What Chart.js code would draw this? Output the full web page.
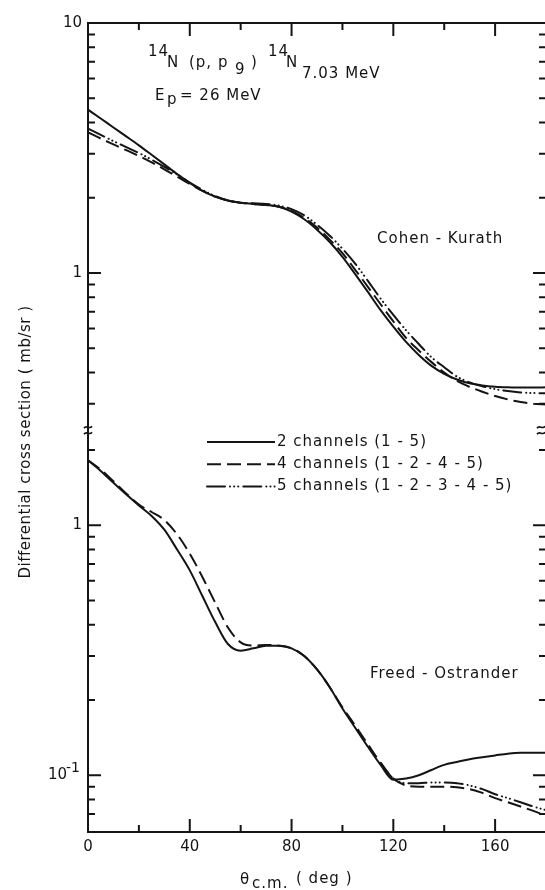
<!DOCTYPE html>
<html>
<head>
<meta charset="utf-8">
<title>14N(p,p9) cross sections</title>
<script src="https://cdn.jsdelivr.net/npm/chart.js@4.4.1/dist/chart.umd.min.js"></script>
<style>
    html, body { margin: 0; padding: 0; background: #fff; overflow: hidden; }
    #wrap { width: 548px; height: 890px; }
</style>
</head>
<body>
<div id="wrap"><canvas id="xsec" width="548" height="890"></canvas></div>
<script>
// c.m. angle, degrees
var angles = [0, 5, 10, 15, 20, 25, 30, 35, 40, 45, 50, 55, 60, 65, 70, 75, 80, 85, 90,
    95, 100, 105, 110, 115, 120, 125, 130, 135, 140, 145, 150, 155, 160, 165, 170, 175, 180];

// Cohen - Kurath, mb/sr
var cohenTwo = [4.50, 4.15, 3.82, 3.52, 3.24, 2.97, 2.72, 2.49, 2.29, 2.13, 2.02, 1.95, 1.91, 1.89, 1.87, 1.84, 1.76, 1.64, 1.49,
    1.33, 1.16, 0.99, 0.84, 0.71, 0.61, 0.53, 0.47, 0.425, 0.395, 0.375, 0.362, 0.355, 0.351, 0.349, 0.348, 0.348, 0.349];
var cohenFour = [3.65, 3.45, 3.27, 3.10, 2.94, 2.77, 2.60, 2.43, 2.27, 2.13, 2.02, 1.95, 1.91, 1.89, 1.87, 1.84, 1.77, 1.66, 1.52,
    1.36, 1.20, 1.03, 0.88, 0.75, 0.64, 0.55, 0.49, 0.44, 0.40, 0.37, 0.35, 0.335, 0.322, 0.312, 0.305, 0.300, 0.298];
var cohenFive = [3.78, 3.57, 3.37, 3.19, 3.02, 2.84, 2.66, 2.48, 2.30, 2.15, 2.03, 1.95, 1.91, 1.90, 1.89, 1.86, 1.80, 1.70, 1.56,
    1.41, 1.25, 1.09, 0.93, 0.79, 0.68, 0.59, 0.52, 0.46, 0.42, 0.385, 0.365, 0.352, 0.343, 0.337, 0.333, 0.331, 0.330];

// Freed - Ostrander, mb/sr
var freedTwo = [1.82, 1.65, 1.48, 1.33, 1.20, 1.09, 0.96, 0.80, 0.66, 0.52, 0.41, 0.335, 0.315, 0.322, 0.33, 0.33, 0.322, 0.30, 0.265,
    0.225, 0.185, 0.155, 0.13, 0.11, 0.096, 0.097, 0.100, 0.105, 0.110, 0.113, 0.116, 0.118, 0.120, 0.122, 0.123, 0.123, 0.123];
var freedFour = [1.82, 1.67, 1.50, 1.34, 1.21, 1.13, 1.05, 0.92, 0.77, 0.62, 0.49, 0.39, 0.34, 0.33, 0.332, 0.33, 0.322, 0.30, 0.265,
    0.225, 0.187, 0.158, 0.133, 0.112, 0.097, 0.091, 0.090, 0.090, 0.090, 0.0895, 0.088, 0.085, 0.081, 0.078, 0.075, 0.072, 0.069];
var freedFive = [null, null, null, null, null, null, null, null, null, null, null, null, null, null, null, null, null, null, null,
    null, null, null, null, 0.112, 0.097, 0.093, 0.093, 0.0935, 0.0935, 0.093, 0.091, 0.088, 0.084, 0.081, 0.078, 0.075, 0.0725];

var seriesLabels = ['2 channels (1 - 5)', '4 channels (1 - 2 - 4 - 5)', '5 channels (1 - 2 - 3 - 4 - 5)'];
var xTickLabels = [0, 40, 80, 120, 160];
var topTickLabels = [10, 1];
var bottomTickLabels = [1, 0.1];

var ink = '#141414';
var textFont = '15px "DejaVu Sans"';

// solid, dashed, dash-dot-dot-dot
var lineStyles = [
    { borderDash: [], borderCapStyle: 'butt' },
    { borderDash: [14, 6], borderCapStyle: 'butt' },
    { borderDash: [18, 5, 0.1, 4, 0.1, 4, 0.1, 5], borderCapStyle: 'round' }
];

function curve(i, values, axis) {
    return {
        label: seriesLabels[i],
        yAxisID: axis,
        data: angles.map(function (a, k) { return { x: a, y: values[k] }; }),
        borderColor: ink,
        borderWidth: 2,
        borderDash: lineStyles[i].borderDash,
        borderCapStyle: lineStyles[i].borderCapStyle,
        pointRadius: 0,
        cubicInterpolationMode: 'monotone',
        spanGaps: false
    };
}

function text(ctx, s, x, y) {
    ctx.fillText(s, x, y);
}

// two little wavy strokes marking the axis break
function breakMark(ctx, x, y) {
    ctx.save();
    ctx.setLineDash([]);
    ctx.lineWidth = 1.6;
    ctx.beginPath();
    [-3, 3].forEach(function (dy) {
        ctx.moveTo(x - 4, y + dy + 1);
        ctx.bezierCurveTo(x - 1.5, y + dy - 3, x + 1.5, y + dy + 3, x + 4, y + dy - 1);
    });
    ctx.stroke();
    ctx.restore();
}

var decorations = {
    id: 'decorations',
    afterDraw: function (chart) {
        var ctx = chart.ctx;
        var area = chart.chartArea;
        var xs = chart.scales.x;
        ctx.save();
        ctx.strokeStyle = ink;
        ctx.fillStyle = ink;
        ctx.lineWidth = 2;

        // frame
        ctx.strokeRect(area.left, area.top, area.right - area.left, area.bottom - area.top);

        // inward ticks
        ctx.beginPath();
        for (var a = 20; a < 180; a += 20) {
            var px = xs.getPixelForValue(a);
            var len = a % 40 === 0 ? 13 : 7;
            ctx.moveTo(px, area.top);
            ctx.lineTo(px, area.top + len);
            ctx.moveTo(px, area.bottom);
            ctx.lineTo(px, area.bottom - len);
        }
        ['yTop', 'yBot'].forEach(function (id) {
            var s = chart.scales[id];
            var e0 = Math.floor(Math.log10(s.min));
            var e1 = Math.floor(Math.log10(s.max));
            for (var e = e0; e <= e1; e++) {
                for (var m = 1; m < 10; m++) {
                    var py = s.getPixelForValue(m * Math.pow(10, e));
                    if (py <= s.top + 6 || py >= s.bottom - 6) continue;
                    var tl = m === 1 ? 13 : 7;
                    ctx.moveTo(area.left, py);
                    ctx.lineTo(area.left + tl, py);
                    ctx.moveTo(area.right, py);
                    ctx.lineTo(area.right - tl, py);
                }
            }
        });
        ctx.stroke();

        var cut = chart.scales.yTop.bottom;
        breakMark(ctx, area.left, cut);
        breakMark(ctx, area.right - 5, cut);

        // exponent of the 10^-1 label
        ctx.font = '14px "DejaVu Sans"';
        ctx.textAlign = 'right';
        text(ctx, '-1', area.left - 8, chart.scales.yBot.getPixelForValue(0.1) - 3);

        ctx.font = textFont;
        ctx.letterSpacing = '1px';
        ctx.textBaseline = 'alphabetic';
        ctx.textAlign = 'left';

        // reaction
        text(ctx, '14', 148, 56);
        text(ctx, 'N', 167, 67);
        text(ctx, '(p, p', 189, 67);
        text(ctx, '9', 235, 74);
        text(ctx, ')', 251, 67);
        text(ctx, '14', 268, 56);
        text(ctx, 'N', 286, 67);
        text(ctx, '7.03 MeV', 302, 78);
        text(ctx, 'E', 155, 100);
        text(ctx, 'p', 167, 104);
        text(ctx, '= 26 MeV', 180, 100);

        // panel names
        text(ctx, 'Cohen - Kurath', 377, 243);
        text(ctx, 'Freed - Ostrander', 370, 678);

        // key
        ctx.textBaseline = 'middle';
        for (var i = 0; i < 3; i++) {
            var ds = chart.data.datasets[i];
            var ky = 442 + i * 22.3;
            ctx.save();
            ctx.setLineDash(ds.borderDash);
            ctx.lineCap = ds.borderCapStyle;
            ctx.beginPath();
            ctx.moveTo(207, ky);
            ctx.lineTo(275, ky);
            ctx.stroke();
            ctx.restore();
            text(ctx, ds.label, 277, ky);
        }

        // axis titles
        ctx.textBaseline = 'alphabetic';
        text(ctx, '\u03B8', 240, 884);
        text(ctx, 'c.m.', 252, 888);
        text(ctx, '( deg )', 296, 883);

        ctx.translate(30, 442);
        ctx.rotate(-Math.PI / 2);
        ctx.textAlign = 'center';
        ctx.letterSpacing = '0.5px';
        text(ctx, 'Differential cross section ( mb/sr )', 0, 0);
        ctx.restore();
    }
};

Chart.defaults.font.family = '"DejaVu Sans"';
Chart.defaults.font.size = 15;
Chart.defaults.color = ink;

var topMin = 0.235, topMax = 10;
var botMin = 0.0593, botMax = 2.4;

var ctx = document.getElementById('xsec');
var myChart = new Chart(ctx, {
    type: 'line',
    data: {
        datasets: [
            curve(0, cohenTwo, 'yTop'),
            curve(1, cohenFour, 'yTop'),
            curve(2, cohenFive, 'yTop'),
            curve(0, freedTwo, 'yBot'),
            curve(1, freedFour, 'yBot'),
            curve(2, freedFive, 'yBot')
        ]
    },
    options: {
        responsive: false,
        animation: false,
        layout: { padding: { top: 23, right: 2, left: 0, bottom: 0 } },
        plugins: {
            legend: { display: false },
            tooltip: { enabled: false }
        },
        scales: {
            x: {
                type: 'linear',
                min: 0,
                max: 180,
                grid: { display: false, drawTicks: false },
                border: { display: false },
                afterBuildTicks: function (s) {
                    s.ticks = xTickLabels.map(function (v) { return { value: v }; });
                },
                afterFit: function (s) { s.height = 58; },
                ticks: { padding: 6, maxRotation: 0, autoSkip: false }
            },
            yTop: {
                type: 'logarithmic',
                position: 'left',
                stack: 'panels',
                stackWeight: Math.log10(topMax / topMin),
                weight: 1,
                min: topMin,
                max: topMax,
                grid: { display: false, drawTicks: false },
                border: { display: false },
                afterBuildTicks: function (s) {
                    s.ticks = topTickLabels.map(function (v) { return { value: v }; });
                },
                afterFit: function (s) { s.width = 88; },
                ticks: { padding: 6, autoSkip: false, callback: function (v) { return String(v); } }
            },
            yBot: {
                type: 'logarithmic',
                position: 'left',
                stack: 'panels',
                stackWeight: Math.log10(botMax / botMin),
                weight: 0,
                min: botMin,
                max: botMax,
                grid: { display: false, drawTicks: false },
                border: { display: false },
                afterBuildTicks: function (s) {
                    s.ticks = bottomTickLabels.map(function (v) { return { value: v }; });
                },
                afterFit: function (s) { s.width = 88; },
                ticks: {
                    padding: 6,
                    autoSkip: false,
                    // the exponent is drawn by the decorations plugin
                    callback: function (v) { return v < 1 ? '10\u2003' : String(v); }
                }
            }
        }
    },
    plugins: [decorations]
});
</script>
</body>
</html>
